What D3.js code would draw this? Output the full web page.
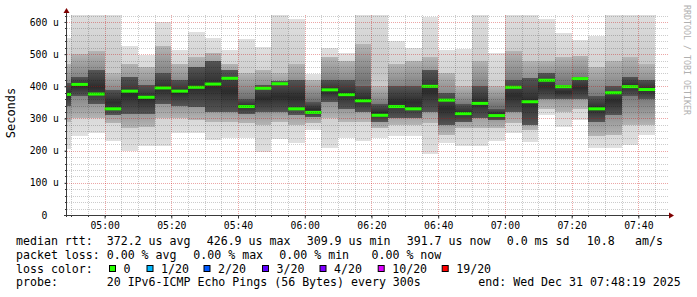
<!DOCTYPE html>
<html>
<head>
<meta charset="utf-8">
<script src="https://cdn.jsdelivr.net/npm/d3@7"></script>
<style>
body { margin: 0; background: #fff; }
svg { display: block; font-family: "DejaVu Sans Mono", monospace; }
</style>
</head>
<body>
<script>
// 5 minute slots (start time of each bar)
const slotStart = ["04:45","04:50","04:55","05:00","05:05","05:10","05:15","05:20","05:25","05:30","05:35","05:40",
  "05:45","05:50","05:55","06:00","06:05","06:10","06:15","06:20","06:25","06:30","06:35","06:40",
  "06:45","06:50","06:55","07:00","07:05","07:10","07:15","07:20","07:25","07:30","07:35","07:40"];
// smoke: outer band (min..max), middle band, dark band, median (all in us)
const pingMax   = [550,640,640,640,524,498,601,513,570,549,513,547,521,640,609,438,519,503,640,640,541,519,617,513,515,640,503,640,640,608,565,544,557,640,640,640];
const pingUpper = [470,500,510,440,470,460,525,470,490,505,470,440,450,440,470,420,490,480,530,400,470,480,490,440,400,480,400,510,480,480,490,495,460,480,490,470];
const pingUpMid = [410,430,450,390,430,405,440,420,460,480,450,360,405,415,420,350,420,420,400,345,400,400,450,380,345,400,330,420,425,440,405,430,370,400,430,420];
const medianRtt = [375,406,376,330,385,366,395,385,397,407,425,337,394,408,330,319,389,374,355,310,337,330,400,357,315,347,309,397,352,419,399,424,330,380,399,390];
const pingLoMid = [340,370,345,310,315,315,345,340,335,320,320,315,320,320,310,305,350,330,320,290,300,300,320,280,290,300,295,320,280,360,360,360,290,311,370,360];
const pingLower = [290,300,300,285,270,275,300,300,295,290,290,285,280,290,280,285,300,290,290,270,280,280,285,250,270,270,270,285,265,330,320,330,245,250,280,280];
const pingMin   = [205,245,256,230,199,214,214,256,256,234,240,240,197,235,225,264,208,240,231,240,245,246,190,224,215,214,230,256,228,311,275,295,209,207,218,249];

const yTicks = [0,100,200,300,400,500,600];
const lossLabels = ["0","1/20","2/20","3/20","4/20","10/20","19/20"];
const lossColors = ["#26ff00","#00b8ff","#0059ff","#5e00ff","#7e00ff","#dd00ff","#ff0000"];

const W = 697, H = 297;
const plotL = 67, plotR = 667.5, plotT = 15, plotB = 215;

const svg = d3.select('body').append('svg')
  .attr('width', W).attr('height', H);
svg.append('rect').attr('width', W).attr('height', H).attr('fill', '#fff');

const parseHM = d3.timeParse('%H:%M');
function toDate(s) {
  const t = parseHM(s);
  return new Date(2025, 11, 31, t.getHours(), t.getMinutes());
}

var x = d3.scaleTime()
  .domain([new Date(2025, 11, 31, 4, 48, 44), new Date(2025, 11, 31, 7, 48, 44)])
  .range([plotL, plotR]);
var y = d3.scaleLinear().domain([0, 621.7]).range([plotB, plotT]);

const defs = svg.append('defs');
defs.append('clipPath').attr('id', 'plot')
  .append('rect').attr('x', plotL).attr('y', plotT).attr('width', plotR - plotL).attr('height', plotB - plotT);

// smoke shading, lighter at the edges of each band
const bands = [
  ['min', 'max', 'smoke0', '#e0e0e0', '#c6c6c6'],
  ['lower', 'upper', 'smoke1', '#b5b5b5', '#707070'],
  ['loMid', 'upMid', 'smoke2', '#555555', '#2c2c2c']
];
bands.forEach(b => {
  const lgd = defs.append('linearGradient').attr('id', b[2])
    .attr('x1', 0).attr('x2', 0).attr('y1', 0).attr('y2', 1);
  lgd.append('stop').attr('offset', '0%').attr('stop-color', b[3]);
  lgd.append('stop').attr('offset', '50%').attr('stop-color', b[4]);
  lgd.append('stop').attr('offset', '100%').attr('stop-color', b[3]);
});

const data = slotStart.map((s, i) => ({
  t0: toDate(s),
  t1: d3.timeMinute.offset(toDate(s), 5),
  max: pingMax[i], upper: pingUpper[i], upMid: pingUpMid[i],
  med: medianRtt[i], loMid: pingLoMid[i], lower: pingLower[i], min: pingMin[i]
}));

const g = svg.append('g').attr('clip-path', 'url(#plot)');

bands.forEach(b => {
  g.selectAll(null).data(data).enter().append('rect')
    .attr('x', d => x(d.t0))
    .attr('width', d => x(d.t1) - x(d.t0))
    .attr('y', d => y(d[b[1]]))
    .attr('height', d => y(d[b[0]]) - y(d[b[1]]))
    .attr('fill', 'url(#' + b[2] + ')')
    .attr('shape-rendering', 'crispEdges');
});

// grid on top of smoke
const minorT = d3.timeMinute.every(5).range(x.domain()[0], x.domain()[1]);
const gridV = d3.range(20, 621, 20);

const grid = svg.append('g').attr('shape-rendering', 'crispEdges').attr('stroke-dasharray', '1,1');
grid.selectAll(null).data(minorT).enter().append('line')
  .attr('x1', d => Math.round(x(d)) + 0.5).attr('x2', d => Math.round(x(d)) + 0.5)
  .attr('y1', plotT).attr('y2', plotB)
  .attr('stroke', d => d.getMinutes() % 20 === 0 ? 'rgba(200,0,0,0.35)' : 'rgba(0,0,0,0.2)');
grid.selectAll(null).data(gridV).enter().append('line')
  .attr('y1', d => Math.round(y(d)) + 0.5).attr('y2', d => Math.round(y(d)) + 0.5)
  .attr('x1', plotL).attr('x2', plotR)
  .attr('stroke', d => d % 100 === 0 ? 'rgba(200,0,0,0.35)' : 'rgba(0,0,0,0.2)');

// median lines
g.selectAll(null).data(data).enter().append('rect')
  .attr('x', d => x(d.t0))
  .attr('width', d => x(d.t1) - x(d.t0))
  .attr('y', d => y(d.med) - 1.5)
  .attr('height', 3)
  .attr('fill', lossColors[0]);

// axes
const axisColor = '#3a3a3a';
var xAxis = d3.axisBottom(x)
  .ticks(d3.timeMinute.every(20))
  .tickFormat(d3.timeFormat('%H:%M'))
  .tickSize(3).tickPadding(4);
const gx = svg.append('g').attr('transform', 'translate(0,' + (plotB + 0.5) + ')').call(xAxis);
gx.select('.domain').remove();
gx.selectAll('line').attr('stroke', axisColor);
gx.selectAll('text').attr('font-size', 9.75).attr('font-family', '"DejaVu Sans Mono", monospace').attr('fill', '#000');

// minor x ticks
svg.append('g').selectAll(null).data(minorT).enter().append('line')
  .attr('x1', d => Math.round(x(d)) + 0.5).attr('x2', d => Math.round(x(d)) + 0.5)
  .attr('y1', plotB).attr('y2', plotB + 2)
  .attr('stroke', axisColor);

var yAxis = d3.axisLeft(y).tickValues(yTicks)
  .tickFormat(d => d ? d + ' u' : '0  ')
  .tickSize(2).tickPadding(5.5);
const gy = svg.append('g').attr('transform', 'translate(' + (plotL - 0.5) + ',0)').call(yAxis);
gy.select('.domain').remove();
gy.selectAll('line').attr('stroke', axisColor);
gy.selectAll('text')
  .attr('font-size', 9.75).attr('font-family', '"DejaVu Sans Mono", monospace').attr('fill', '#000')
  .attr('xml:space', 'preserve').style('white-space', 'pre');

// minor y ticks
svg.append('g').selectAll(null).data(gridV).enter().append('line')
  .attr('y1', d => Math.round(y(d)) + 0.5).attr('y2', d => Math.round(y(d)) + 0.5)
  .attr('x1', plotL - 2).attr('x2', plotL)
  .attr('stroke', axisColor);

// axis lines + arrows
svg.append('line').attr('x1', plotL - 0.5).attr('x2', plotL - 0.5).attr('y1', 12).attr('y2', plotB + 2)
  .attr('stroke', axisColor);
svg.append('line').attr('x1', plotL - 3).attr('x2', 670).attr('y1', plotB + 0.5).attr('y2', plotB + 0.5)
  .attr('stroke', axisColor);
svg.append('path').attr('d', 'M' + (plotL - 0.5) + ',8 L' + (plotL + 2.5) + ',13 L' + (plotL - 3.5) + ',13 Z').attr('fill', '#7f0000');
svg.append('path').attr('d', 'M674,' + (plotB + 0.5) + ' L669,' + (plotB - 2.5) + ' L669,' + (plotB + 3.5) + ' Z').attr('fill', '#7f0000');

// y axis title
svg.append('text').attr('transform', 'translate(15,113) rotate(-90)')
  .attr('text-anchor', 'middle').attr('font-size', 12).attr('fill', '#000')
  .text('Seconds');

// watermark
svg.append('text').attr('transform', 'translate(684,5) rotate(90)')
  .attr('font-size', 8.3).attr('fill', '#b0b0b0')
  .text('RRDTOOL / TOBI OETIKER');

// legend
const lg = svg.append('g').attr('font-size', 11.6).attr('fill', '#000');
function txt(xp, yp, s) {
  lg.append('text').attr('x', xp).attr('y', yp).attr('xml:space', 'preserve').style('white-space', 'pre').text(s);
}
txt(16, 245, 'median rtt:');
txt(106.7, 245, '372.2 us avg');
txt(206.7, 245, '426.9 us max');
txt(306.7, 245, '309.9 us min');
txt(406.7, 245, '391.7 us now');
txt(506.7, 245, '0.0 ms sd');
txt(586.7, 245, '10.8');
txt(635, 245, 'am/s');

txt(16, 258.8, 'packet loss:');
txt(106.7, 258.8, '0.00 % avg');
txt(193.3, 258.8, '0.00 % max');
txt(279.3, 258.8, '0.00 % min');
txt(371.5, 258.8, '0.00 % now');

txt(16, 272.5, 'loss color:');
const lossX = [109, 146.5, 203.5, 262, 319.5, 377.7, 441.7];
lossLabels.forEach((l, i) => {
  lg.append('rect').attr('x', lossX[i] + 0.5).attr('y', 265.5).attr('width', 6).attr('height', 6)
    .attr('fill', lossColors[i]).attr('stroke', '#000').attr('stroke-width', 1);
  txt(lossX[i] + 14.5, 272.5, l);
});

txt(16, 286.3, 'probe:');
txt(106.7, 286.3, '20 IPv6-ICMP Echo Pings (56 Bytes) every 300s');
txt(478.3, 286.3, 'end: Wed Dec 31 07:48:19 2025');
</script>
</body>
</html>
